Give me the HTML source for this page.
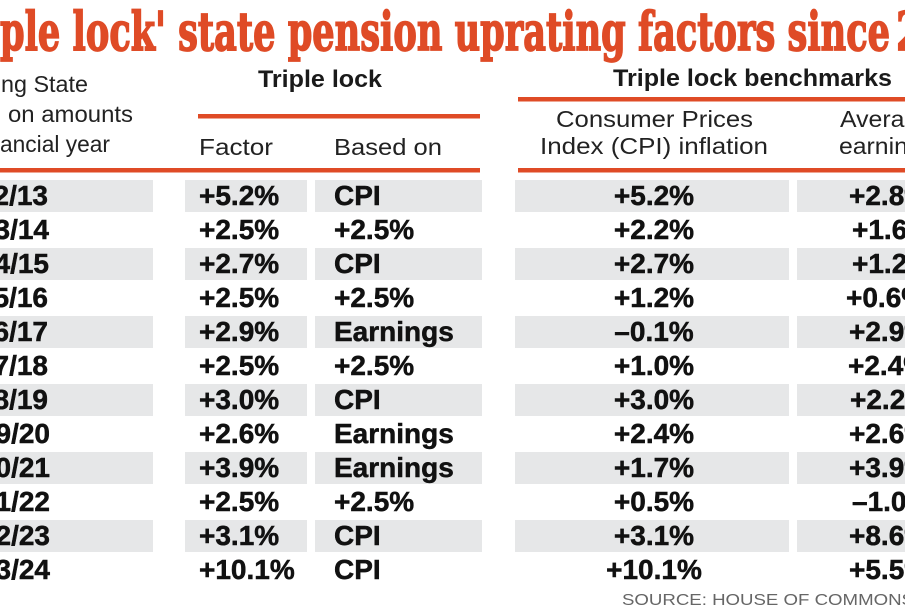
<!DOCTYPE html>
<html><head><meta charset="utf-8"><style>
html,body{margin:0;padding:0;background:#fff;}
body{width:905px;height:613px;overflow:hidden;}
svg{display:block;}
</style></head><body>
<svg width="905" height="613" viewBox="0 0 905 613" xmlns="http://www.w3.org/2000/svg">
<rect width="905" height="613" fill="#fff"/>
<!-- Title -->
<g transform="translate(0,50) scale(1,1.4)">
<text x="0" y="0" font-family="'DejaVu Serif','Liberation Serif',serif" font-weight="bold" font-size="38" fill="#df4b26" stroke="#df4b26" stroke-width="1.2" textLength="890" lengthAdjust="spacingAndGlyphs">ple lock' state pension uprating factors since</text>
<text x="896" y="0" font-family="'DejaVu Serif','Liberation Serif',serif" font-weight="bold" font-size="38" fill="#df4b26" stroke="#df4b26" stroke-width="1.2">2</text>
</g>

<!-- Header left -->
<g font-family="'Liberation Sans',sans-serif" font-size="23" fill="#222">
<text x="1" y="92" textLength="87" lengthAdjust="spacingAndGlyphs">ng State</text>
<text x="8" y="122" textLength="125" lengthAdjust="spacingAndGlyphs">on amounts</text>
<text x="0" y="152" textLength="110" lengthAdjust="spacingAndGlyphs">ancial year</text>
<text x="199" y="155" textLength="74" lengthAdjust="spacingAndGlyphs">Factor</text>
<text x="334" y="155" textLength="108" lengthAdjust="spacingAndGlyphs">Based on</text>
<text x="556" y="127" textLength="197" lengthAdjust="spacingAndGlyphs">Consumer Prices</text>
<text x="540" y="154" textLength="228" lengthAdjust="spacingAndGlyphs">Index (CPI) inflation</text>
<text x="840" y="127" textLength="92" lengthAdjust="spacingAndGlyphs">Average</text>
<text x="839" y="154" textLength="95" lengthAdjust="spacingAndGlyphs">earnings</text>
</g>
<g font-family="'Liberation Sans',sans-serif" font-size="24" font-weight="bold" fill="#1a1a1a">
<text x="258" y="87" textLength="124" lengthAdjust="spacingAndGlyphs">Triple lock</text>
<text x="613" y="86" textLength="279" lengthAdjust="spacingAndGlyphs">Triple lock benchmarks</text>
</g>

<!-- Orange rules -->
<g fill="#df4b26">
<rect x="198" y="114" width="282" height="4.5"/>
<rect x="518" y="97" width="387" height="4.5"/>
<rect x="0" y="168" width="480" height="4.5"/>
<rect x="518" y="168" width="387" height="4.5"/>
</g>

<!-- Gray row bands (even rows) -->
<g fill="#e6e7e8">
<rect x="0" y="180" width="153" height="32"/><rect x="185" y="180" width="122" height="32"/><rect x="315" y="180" width="167" height="32"/><rect x="515" y="180" width="274" height="32"/><rect x="797" y="180" width="120" height="32"/>
<rect x="0" y="248" width="153" height="32"/><rect x="185" y="248" width="122" height="32"/><rect x="315" y="248" width="167" height="32"/><rect x="515" y="248" width="274" height="32"/><rect x="797" y="248" width="120" height="32"/>
<rect x="0" y="316" width="153" height="32"/><rect x="185" y="316" width="122" height="32"/><rect x="315" y="316" width="167" height="32"/><rect x="515" y="316" width="274" height="32"/><rect x="797" y="316" width="120" height="32"/>
<rect x="0" y="384" width="153" height="32"/><rect x="185" y="384" width="122" height="32"/><rect x="315" y="384" width="167" height="32"/><rect x="515" y="384" width="274" height="32"/><rect x="797" y="384" width="120" height="32"/>
<rect x="0" y="452" width="153" height="32"/><rect x="185" y="452" width="122" height="32"/><rect x="315" y="452" width="167" height="32"/><rect x="515" y="452" width="274" height="32"/><rect x="797" y="452" width="120" height="32"/>
<rect x="0" y="520" width="153" height="32"/><rect x="185" y="520" width="122" height="32"/><rect x="315" y="520" width="167" height="32"/><rect x="515" y="520" width="274" height="32"/><rect x="797" y="520" width="120" height="32"/>
</g>

<!-- Data -->
<g font-family="'Liberation Sans',sans-serif" font-size="28" font-weight="bold" fill="#111" stroke="#111" stroke-width="0.5">
<g text-anchor="end">
<text x="48" y="205">2012/13</text>
<text x="49" y="239">2013/14</text>
<text x="49" y="273">2014/15</text>
<text x="48" y="307">2015/16</text>
<text x="48" y="341">2016/17</text>
<text x="48" y="375">2017/18</text>
<text x="48" y="409">2018/19</text>
<text x="50" y="443">2019/20</text>
<text x="50" y="477">2020/21</text>
<text x="50" y="511">2021/22</text>
<text x="50" y="545">2022/23</text>
<text x="50" y="579">2023/24</text>
</g>
<g>
<text x="199" y="205">+5.2%</text>
<text x="199" y="239">+2.5%</text>
<text x="199" y="273">+2.7%</text>
<text x="199" y="307">+2.5%</text>
<text x="199" y="341">+2.9%</text>
<text x="199" y="375">+2.5%</text>
<text x="199" y="409">+3.0%</text>
<text x="199" y="443">+2.6%</text>
<text x="199" y="477">+3.9%</text>
<text x="199" y="511">+2.5%</text>
<text x="199" y="545">+3.1%</text>
<text x="199" y="579">+10.1%</text>
</g>
<g>
<text x="334" y="205">CPI</text>
<text x="334" y="239">+2.5%</text>
<text x="334" y="273">CPI</text>
<text x="334" y="307">+2.5%</text>
<text x="334" y="341">Earnings</text>
<text x="334" y="375">+2.5%</text>
<text x="334" y="409">CPI</text>
<text x="334" y="443">Earnings</text>
<text x="334" y="477">Earnings</text>
<text x="334" y="511">+2.5%</text>
<text x="334" y="545">CPI</text>
<text x="334" y="579">CPI</text>
</g>
<g text-anchor="middle">
<text x="654" y="205">+5.2%</text>
<text x="654" y="239">+2.2%</text>
<text x="654" y="273">+2.7%</text>
<text x="654" y="307">+1.2%</text>
<text x="654" y="341">–0.1%</text>
<text x="654" y="375">+1.0%</text>
<text x="654" y="409">+3.0%</text>
<text x="654" y="443">+2.4%</text>
<text x="654" y="477">+1.7%</text>
<text x="654" y="511">+0.5%</text>
<text x="654" y="545">+3.1%</text>
<text x="654" y="579">+10.1%</text>
</g>
<g>
<text x="849" y="205">+2.8%</text>
<text x="852" y="239">+1.6%</text>
<text x="852" y="273">+1.2%</text>
<text x="846" y="307">+0.6%</text>
<text x="849" y="341">+2.9%</text>
<text x="848" y="375">+2.4%</text>
<text x="850" y="409">+2.2%</text>
<text x="849" y="443">+2.6%</text>
<text x="849" y="477">+3.9%</text>
<text x="852" y="511">–1.0%</text>
<text x="849" y="545">+8.6%</text>
<text x="849" y="579">+5.5%</text>
</g>
</g>

<!-- Source -->
<text x="622" y="605" font-family="'Liberation Sans',sans-serif" font-size="16" fill="#666" textLength="292" lengthAdjust="spacingAndGlyphs">SOURCE: HOUSE OF COMMONS</text>
</svg>
</body></html>
